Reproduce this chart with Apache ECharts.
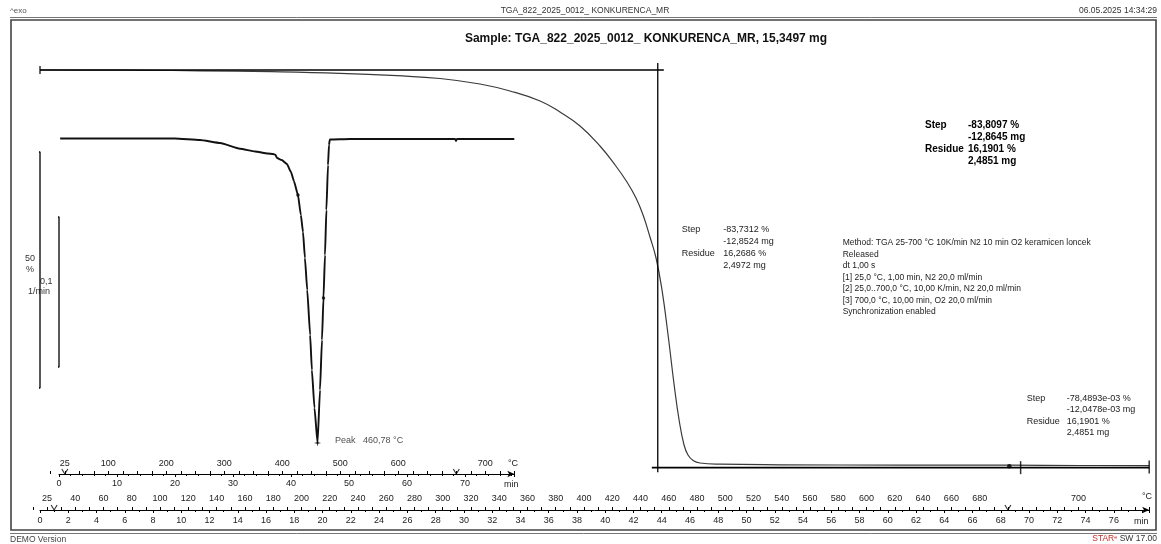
<!DOCTYPE html>
<html>
<head>
<meta charset="utf-8">
<script src="https://cdn.jsdelivr.net/npm/echarts@6/dist/echarts.min.js"></script>
<style>
  html, body { margin: 0; padding: 0; background: #fff; }
  #c { width: 1161px; height: 544px; }
</style>
</head>
<body>
<div id="c"></div>
<script>
// ---- TGA mass curve: time (min) -> mass (%) ----
const tgaTime = [0, 4.25, 7.5, 11.32, 16.35, 21.23, 25.27, 28.31, 31.14, 33.26, 35.39, 36.8, 38.22, 39.63, 40.7, 41.54, 42.18, 42.68, 43.17, 43.6, 44.02, 44.45, 44.88, 45.23, 45.58, 45.86, 46.22, 46.71, 48.12, 52.37, 60.86, 68.58, 73.6, 78.5];
const tgaMass = [100, 99.98, 99.94, 99.83, 99.64, 99.30, 98.79, 98.2, 97.03, 95.55, 93.43, 91.1, 88.14, 83.9, 79.87, 76.27, 72.88, 69.28, 64.62, 60.17, 53.4, 43.86, 33.26, 25.85, 20.55, 18.43, 17.27, 16.74, 16.48, 16.36, 16.3, 16.27, 16.21, 16.19];

// ---- DTG curve: time (min) -> mass change rate (1/min) ----
const dtgTime = [0.2, 10, 20, 24.3, 27.8, 31.2, 33.8, 36.0, 36.9, 37.3, 37.6, 38.4, 39.3, 40.0, 40.5, 41.2, 41.7, 42.07, 42.4, 42.8, 43.3, 43.6, 44.05, 44.578, 45.0, 45.34, 45.6, 45.86, 46.1, 46.38, 46.55, 46.7, 50.2, 58.8, 68.3, 68.45, 68.6, 78.5];
const dtgRate = [0.0003, 0.0003, 0.0003, -0.0007, -0.0027, -0.0065, -0.0083, -0.0097, -0.0100, -0.0105, -0.0127, -0.0140, -0.0167, -0.0220, -0.0280, -0.0373, -0.0507, -0.0620, -0.0793, -0.1007, -0.1307, -0.1540, -0.1793, -0.2027, -0.1673, -0.1340, -0.1060, -0.0773, -0.0473, -0.0173, -0.0040, -0.0003, 0, 0, 0, -0.0013, 0, 0];

// DTG peak
const peakTemp = 460.78;
const peakTime = 44.578;
const peakRate = -0.2027;
// DTG evaluation limits
const dtgLimitTime = [41.2, 45.6];
const dtgLimitRate = [-0.0373, -0.1060];

// Step evaluation construction lines (time, mass %)
const stepTopLine = [[0, 100], [44.15, 100]];
const stepLimitLine = [[43.72, 101.5], [43.72, 14.8]];
const stepBottomLine = [[43.3, 15.75], [78.5, 15.75]];
const curveStart = [[0, 100]];
const isoLimitDot = [[68.6, 16.05]];
const isoLimitBars = [[69.4, 15.75], [78.5, 15.9]];

// Scale bars: 50 % (mass) and 0,1 1/min (rate)
const massScaleBar = [[-0.28, 82.63], [0, 82.63], [0, 32.63], [-0.28, 32.63]];
const rateScaleBar = [[-0.6, -0.052], [0, -0.052], [0, -0.152], [-0.6, -0.152]];

// Method segment boundaries (min)
const segmentBounds = [1, 68.5];

// Axis label tables (temperature axes drawn on 10 K/min heating: T = 15 + 10*t)
const mainTempValues = [40, 60, 80, 100, 120, 140, 160, 180, 200, 220, 240, 260, 280, 300, 320, 340, 360, 380, 400, 420, 440, 460, 480, 500, 520, 540, 560, 580, 600, 620, 640, 660, 680];
const mainTempExtra = [[20, '25'], [750, '700']];
const smallTempLabels = [[25, '25'], [100, '100'], [200, '200'], [300, '300'], [400, '400'], [500, '500'], [600, '600'], [750, '700']];

const FONT = 'Liberation Sans, Arial, sans-serif';
const INK = '#222';

const zip = (a, b) => a.map((v, i) => [v, b[i]]);

// pixel layout
const MAIN_L = 40, MAIN_R = 1161 - 1149.2;
const MAIN_PX = (1149.2 - 40) / 78.5;          // px per minute
const SMALL_L = 59, SMALL_RX = 514.3, SMALL_R = 1161 - 514.3;
const SMALL_PX = (SMALL_RX - SMALL_L) / 78.5;

function txt(x, yCenter, text, o) {
  o = o || {};
  const lh = o.lh || 11.7;
  return {
    type: 'text', x: x, y: yCenter - lh / 2, silent: true,
    style: {
      text: text, fill: o.fill || INK, fontFamily: FONT,
      fontSize: o.size || 9, fontWeight: o.bold ? 'bold' : 'normal',
      align: o.align || 'left', verticalAlign: 'top', lineHeight: lh
    }
  };
}

const hiddenY = (min, max, gi) => ({ type: 'value', gridIndex: gi, min: min, max: max, show: false });

const option = {
  animation: false,
  backgroundColor: '#fff',
  grid: [
    // 0: TGA curve
    { left: MAIN_L, right: MAIN_R, top: 70 - 5 * 4.72, height: 105 * 4.72, outerBoundsMode: 'none' },
    // 1: DTG curve
    { left: SMALL_L, right: SMALL_R, top: 64, height: 450, outerBoundsMode: 'none' },
    // 2: main time axis
    { left: MAIN_L, right: MAIN_R, top: 500, height: 10, outerBoundsMode: 'none' },
    // 3: main temperature axis
    { left: MAIN_L - 0.5 * MAIN_PX, right: MAIN_R, top: 510, height: 10, outerBoundsMode: 'none' },
    // 4: small time axis
    { left: SMALL_L, right: SMALL_R, top: 464, height: 10, outerBoundsMode: 'none' },
    // 5: small temperature axis
    { left: SMALL_L - 1.5 * SMALL_PX, right: SMALL_R, top: 474, height: 10, outerBoundsMode: 'none' }
  ],
  xAxis: [
    { type: 'value', gridIndex: 0, min: 0, max: 78.5, show: false },
    { type: 'value', gridIndex: 1, min: 0, max: 78.5, show: false },
    {
      type: 'value', gridIndex: 2, min: 0, max: 78.5, interval: 2, position: 'bottom',
      axisLine: { show: true, onZero: false, lineStyle: { color: '#000', width: 1 }, symbol: ['none', 'arrow'], symbolSize: [5, 7] },
      axisTick: { show: true, length: 3, lineStyle: { color: '#000' } },
      minorTick: { show: true, splitNumber: 2, length: 2, lineStyle: { color: '#000' } },
      splitLine: { show: false }, minorSplitLine: { show: false },
      axisLabel: { interval: 0, margin: 6, fontSize: 9, color: INK, fontFamily: FONT,
        formatter: v => (v <= 76 ? String(Math.round(v)) : '') }
    },
    {
      type: 'value', gridIndex: 3, min: 10, max: 800, interval: 10, position: 'top',
      axisLine: { show: false, onZero: false },
      axisTick: { show: true, length: 3, interval: 0, lineStyle: { color: '#000' } },
      splitLine: { show: false },
      axisLabel: { interval: 0, margin: 7, fontSize: 9, color: INK, fontFamily: FONT,
        formatter: v => {
          const r = Math.round(v);
          const ex = mainTempExtra.find(e => e[0] === r);
          if (ex) return ex[1];
          return mainTempValues.indexOf(r) >= 0 ? String(r) : '';
        } }
    },
    {
      type: 'value', gridIndex: 4, min: 0, max: 78.5, interval: 10, position: 'bottom',
      axisLine: { show: true, onZero: false, lineStyle: { color: '#000', width: 1 }, symbol: ['none', 'arrow'], symbolSize: [5, 7] },
      axisTick: { show: true, length: 3, lineStyle: { color: '#000' } },
      minorTick: { show: true, splitNumber: 5, length: 2, lineStyle: { color: '#000' } },
      splitLine: { show: false }, minorSplitLine: { show: false },
      axisLabel: { interval: 0, margin: 5, fontSize: 9, color: INK, fontFamily: FONT,
        formatter: v => (v <= 70 ? String(Math.round(v)) : '') }
    },
    {
      type: 'value', gridIndex: 5, min: 0, max: 800, interval: 25, position: 'top',
      axisLine: { show: false, onZero: false },
      axisTick: { show: true, length: 3, lineStyle: { color: '#000' } },
      splitLine: { show: false },
      axisLabel: { interval: 0, margin: 6, fontSize: 9, color: INK, fontFamily: FONT,
        formatter: v => {
          const r = Math.round(v);
          const e = smallTempLabels.find(s => s[0] === r);
          return e ? e[1] : '';
        } }
    }
  ],
  yAxis: [
    hiddenY(0, 105, 0),
    hiddenY(-0.25, 0.05, 1),
    hiddenY(0, 1, 2),
    hiddenY(0, 1, 3),
    hiddenY(0, 1, 4),
    hiddenY(0, 1, 5)
  ],
  series: [
    // TGA curve
    { type: 'line', xAxisIndex: 0, yAxisIndex: 0, data: zip(tgaTime, tgaMass), smooth: 0.45,
      showSymbol: false, lineStyle: { color: '#3a3a3a', width: 1.2 }, z: 3 },
    // step construction lines
    { type: 'line', xAxisIndex: 0, yAxisIndex: 0, data: stepTopLine, showSymbol: false, lineStyle: { color: '#000', width: 1.3 }, z: 4 },
    { type: 'line', xAxisIndex: 0, yAxisIndex: 0, data: stepLimitLine, showSymbol: false, lineStyle: { color: '#000', width: 1.3 }, z: 4 },
    { type: 'line', xAxisIndex: 0, yAxisIndex: 0, data: stepBottomLine, showSymbol: false, lineStyle: { color: '#000', width: 1.6 }, z: 4 },
    // limit markers
    { type: 'scatter', xAxisIndex: 0, yAxisIndex: 0, data: curveStart, symbol: 'rect', symbolSize: [1.5, 8], itemStyle: { color: '#000' }, z: 5 },
    { type: 'scatter', xAxisIndex: 0, yAxisIndex: 0, data: isoLimitDot, symbol: 'circle', symbolSize: 4.5, itemStyle: { color: '#000' }, z: 5 },
    { type: 'scatter', xAxisIndex: 0, yAxisIndex: 0, data: isoLimitBars, symbol: 'rect', symbolSize: [1.5, 13], itemStyle: { color: '#000' }, z: 5 },
    // mass scale bar
    { type: 'line', xAxisIndex: 0, yAxisIndex: 0, data: massScaleBar, clip: false, showSymbol: false, lineStyle: { color: '#000', width: 1.3 }, z: 4 },

    // DTG curve
    { type: 'line', xAxisIndex: 1, yAxisIndex: 1, data: zip(dtgTime, dtgRate), smooth: 0.15, smoothMonotone: 'x',
      showSymbol: false, lineStyle: { color: '#111', width: 1.9 }, z: 3 },
    { type: 'scatter', xAxisIndex: 1, yAxisIndex: 1, data: zip(dtgLimitTime, dtgLimitRate), symbol: 'circle', symbolSize: 3.5, itemStyle: { color: '#000' }, z: 5 },
    { type: 'scatter', xAxisIndex: 1, yAxisIndex: 1, data: [[peakTime, peakRate]],
      symbol: 'path://M0,-5L1,-1L5,0L1,1L0,5L-1,1L-5,0L-1,-1Z', symbolSize: 7, itemStyle: { color: '#000' }, z: 5,
      label: { show: true, position: 'right', distance: 14, offset: [0, -3], color: INK, fontSize: 9, fontFamily: FONT,
        formatter: () => '{a|Peak}{b|' + peakTemp.toFixed(2).replace('.', ',') + ' °C}',
        rich: { a: { fontSize: 9, fontFamily: FONT, color: INK, width: 28 }, b: { fontSize: 9, fontFamily: FONT, color: INK } } } },
    // rate scale bar
    { type: 'line', xAxisIndex: 1, yAxisIndex: 1, data: rateScaleBar, clip: false, showSymbol: false, lineStyle: { color: '#000', width: 1.3 }, z: 4 },

    // segment boundary marks on the axes
    { type: 'scatter', xAxisIndex: 2, yAxisIndex: 2, data: segmentBounds.map(t => [t, 0]), clip: false,
      symbol: 'path://M0,0L3,5L6,0', symbolSize: [6, 5], symbolOffset: [0, -2.5],
      itemStyle: { color: 'none', borderColor: '#000', borderWidth: 1 }, z: 6 },
    { type: 'scatter', xAxisIndex: 4, yAxisIndex: 4, data: segmentBounds.map(t => [t, 0]), clip: false,
      symbol: 'path://M0,0L3,5L6,0', symbolSize: [6, 5], symbolOffset: [0, -2.5],
      itemStyle: { color: 'none', borderColor: '#000', borderWidth: 1 }, z: 6 }
  ],
  graphic: [
    // frame
    { type: 'line', shape: { x1: 10, y1: 17.5, x2: 1157, y2: 17.5 }, style: { stroke: '#777', lineWidth: 1 }, silent: true },
    { type: 'rect', shape: { x: 11, y: 20, width: 1145, height: 510 }, style: { stroke: '#444', lineWidth: 1.6, fill: 'none' }, silent: true },
    { type: 'line', shape: { x1: 10, y1: 533.5, x2: 1157, y2: 533.5 }, style: { stroke: '#777', lineWidth: 1 }, silent: true },

    // header
    txt(10, 11, '^exo', { size: 8, fill: '#555' }),
    txt(585, 11, 'TGA_822_2025_0012_ KONKURENCA_MR', { size: 8.5, align: 'center', fill: '#333' }),
    txt(1157, 11, '06.05.2025 14:34:29', { size: 8.5, align: 'right', fill: '#333' }),
    txt(646, 39, 'Sample: TGA_822_2025_0012_ KONKURENCA_MR, 15,3497 mg', { size: 12, bold: true, align: 'center', fill: '#111', lh: 14 }),

    // footer
    txt(10, 540, 'DEMO Version', { size: 8.5, fill: '#444' }),
    { type: 'text', x: 1157, y: 534, silent: true,
      style: { text: '{r|STAR}{s|e}{n| SW 17.00}', align: 'right', verticalAlign: 'top',
        rich: { r: { fill: '#c8302c', fontSize: 8.5, fontFamily: FONT }, s: { fill: '#c8302c', fontSize: 5.5, fontFamily: FONT, verticalAlign: 'top' }, n: { fill: '#333', fontSize: 8.5, fontFamily: FONT } } } },

    // scale bar captions
    txt(25, 259, '50', { size: 9, fill: '#333' }),
    txt(26, 270, '%', { size: 9, fill: '#333' }),
    txt(40, 282, '0,1', { size: 9, fill: '#333' }),
    txt(28, 292, '1/min', { size: 9, fill: '#333' }),

    // axis units
    txt(508, 464, '°C', { size: 9 }),
    txt(504, 484.5, 'min', { size: 9 }),
    txt(1142, 497, '°C', { size: 9 }),
    txt(1134, 521.5, 'min', { size: 9 }),

    // step 1 result (overall)
    txt(925, 125.7, 'Step\n\nResidue', { size: 10, bold: true, fill: '#000' }),
    txt(968, 125.7, '-83,8097 %\n-12,8645 mg\n16,1901 %\n2,4851 mg', { size: 10, bold: true, fill: '#000' }),

    // step 2 result
    txt(681.7, 230, 'Step\n\nResidue', { size: 9 }),
    txt(723.3, 230, '-83,7312 %\n-12,8524 mg\n16,2686 %\n2,4972 mg', { size: 9 }),

    // method description
    txt(842.7, 242.7, 'Method: TGA 25-700 °C 10K/min N2 10 min O2 keramicen loncek\nReleased\ndt 1,00 s\n[1] 25,0 °C, 1,00 min, N2 20,0 ml/min\n[2] 25,0..700,0 °C, 10,00 K/min, N2 20,0 ml/min\n[3] 700,0 °C, 10,00 min, O2 20,0 ml/min\nSynchronization enabled', { size: 8.5, lh: 11.5 }),

    // step 3 result
    txt(1026.7, 398.3, 'Step\n\nResidue', { size: 9, lh: 11.4 }),
    txt(1066.7, 398.3, '-78,4893e-03 %\n-12,0478e-03 mg\n16,1901 %\n2,4851 mg', { size: 9, lh: 11.4 })
  ]
};

const chart = echarts.init(document.getElementById('c'), null, { renderer: 'canvas', width: 1161, height: 544 });
chart.setOption(option);
</script>
</body>
</html>
